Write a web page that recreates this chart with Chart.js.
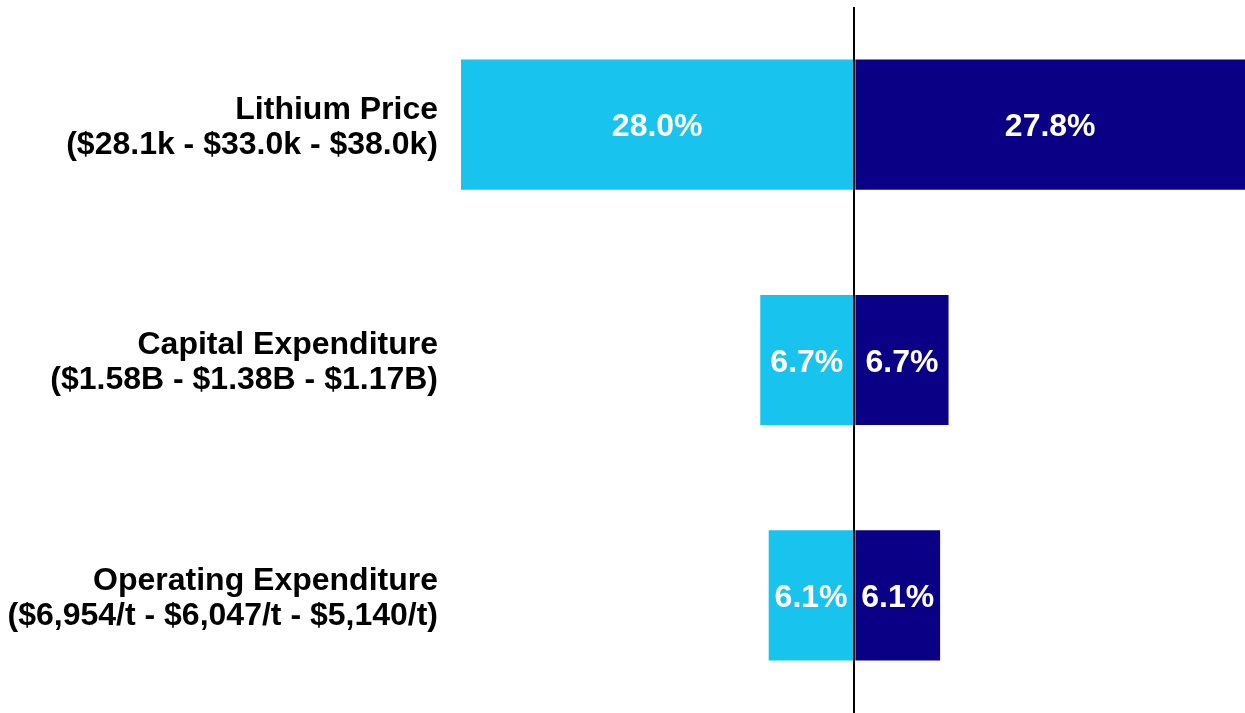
<!DOCTYPE html>
<html>
<head>
<meta charset="utf-8">
<script src="https://cdn.jsdelivr.net/npm/chart.js@4"></script>
<style>
html,body{margin:0;padding:0;background:#fff;}
#wrap{width:1245px;height:713px;position:relative;}
</style>
</head>
<body>
<div id="wrap"><canvas id="c"></canvas></div>
<script>
const categories = [
  ["Lithium Price", "($28.1k - $33.0k - $38.0k)"],
  ["Capital Expenditure", "($1.58B - $1.38B - $1.17B)"],
  ["Operating Expenditure", "($6,954/t - $6,047/t - $5,140/t)"]
];
const downsideValues = [-28.0, -6.7, -6.1];
const upsideValues = [27.8, 6.7, 6.1];

const FONT = '"Liberation Sans", Arial, sans-serif';

const labelPlugin = {
  id: 'barLabels',
  afterDatasetsDraw(chart) {
    const ctx = chart.ctx;
    ctx.save();
    ctx.fillStyle = '#ffffff';
    ctx.font = 'bold 32px ' + FONT;
    ctx.textAlign = 'center';
    ctx.textBaseline = 'middle';
    chart.data.datasets.forEach((ds, di) => {
      const meta = chart.getDatasetMeta(di);
      meta.data.forEach((el, i) => {
        const v = ds.data[i];
        const cx = (el.x + el.base) / 2;
        ctx.fillText(Math.abs(v).toFixed(1) + '%', cx, el.y + 3);
      });
    });
    ctx.restore();
  }
};

new Chart(document.getElementById('c'), {
  type: 'bar',
  data: {
    labels: categories,
    datasets: [
      { data: downsideValues, backgroundColor: '#18C4ED', borderWidth: 0, barPercentage: 0.553, categoryPercentage: 1.0 },
      { data: upsideValues, backgroundColor: '#0A0086', borderWidth: 0, barPercentage: 0.553, categoryPercentage: 1.0 }
    ]
  },
  options: {
    indexAxis: 'y',
    responsive: true,
    maintainAspectRatio: false,
    animation: false,
    layout: { padding: { top: 7, left: 0, right: 0, bottom: 0 } },
    plugins: { legend: { display: false }, tooltip: { enabled: false } },
    scales: {
      x: {
        stacked: true,
        min: -28.0,
        max: 27.8,
        ticks: { display: false, stepSize: 1 },
        border: { display: false },
        grid: {
          drawTicks: false,
          lineWidth: ctx => (ctx.tick && ctx.tick.value === 0) ? 2 : 0,
          color: ctx => (ctx.tick && ctx.tick.value === 0) ? '#000000' : 'rgba(0,0,0,0)',
          z: 1
        },
        afterFit(scale) { scale.height = 0; scale.paddingLeft = 0; scale.paddingRight = 0; }
      },
      y: {
        stacked: true,
        border: { display: false },
        grid: { display: false, drawTicks: false },
        ticks: {
          color: '#000000',
          padding: 23,
          labelOffset: 3,
          font: { family: FONT, size: 32, weight: 'bold', lineHeight: 1.1 }
        },
        afterFit(scale) { scale.width = 461; scale.paddingTop = 0; scale.paddingBottom = 0; }
      }
    }
  },
  plugins: [labelPlugin]
});
</script>
</body>
</html>
